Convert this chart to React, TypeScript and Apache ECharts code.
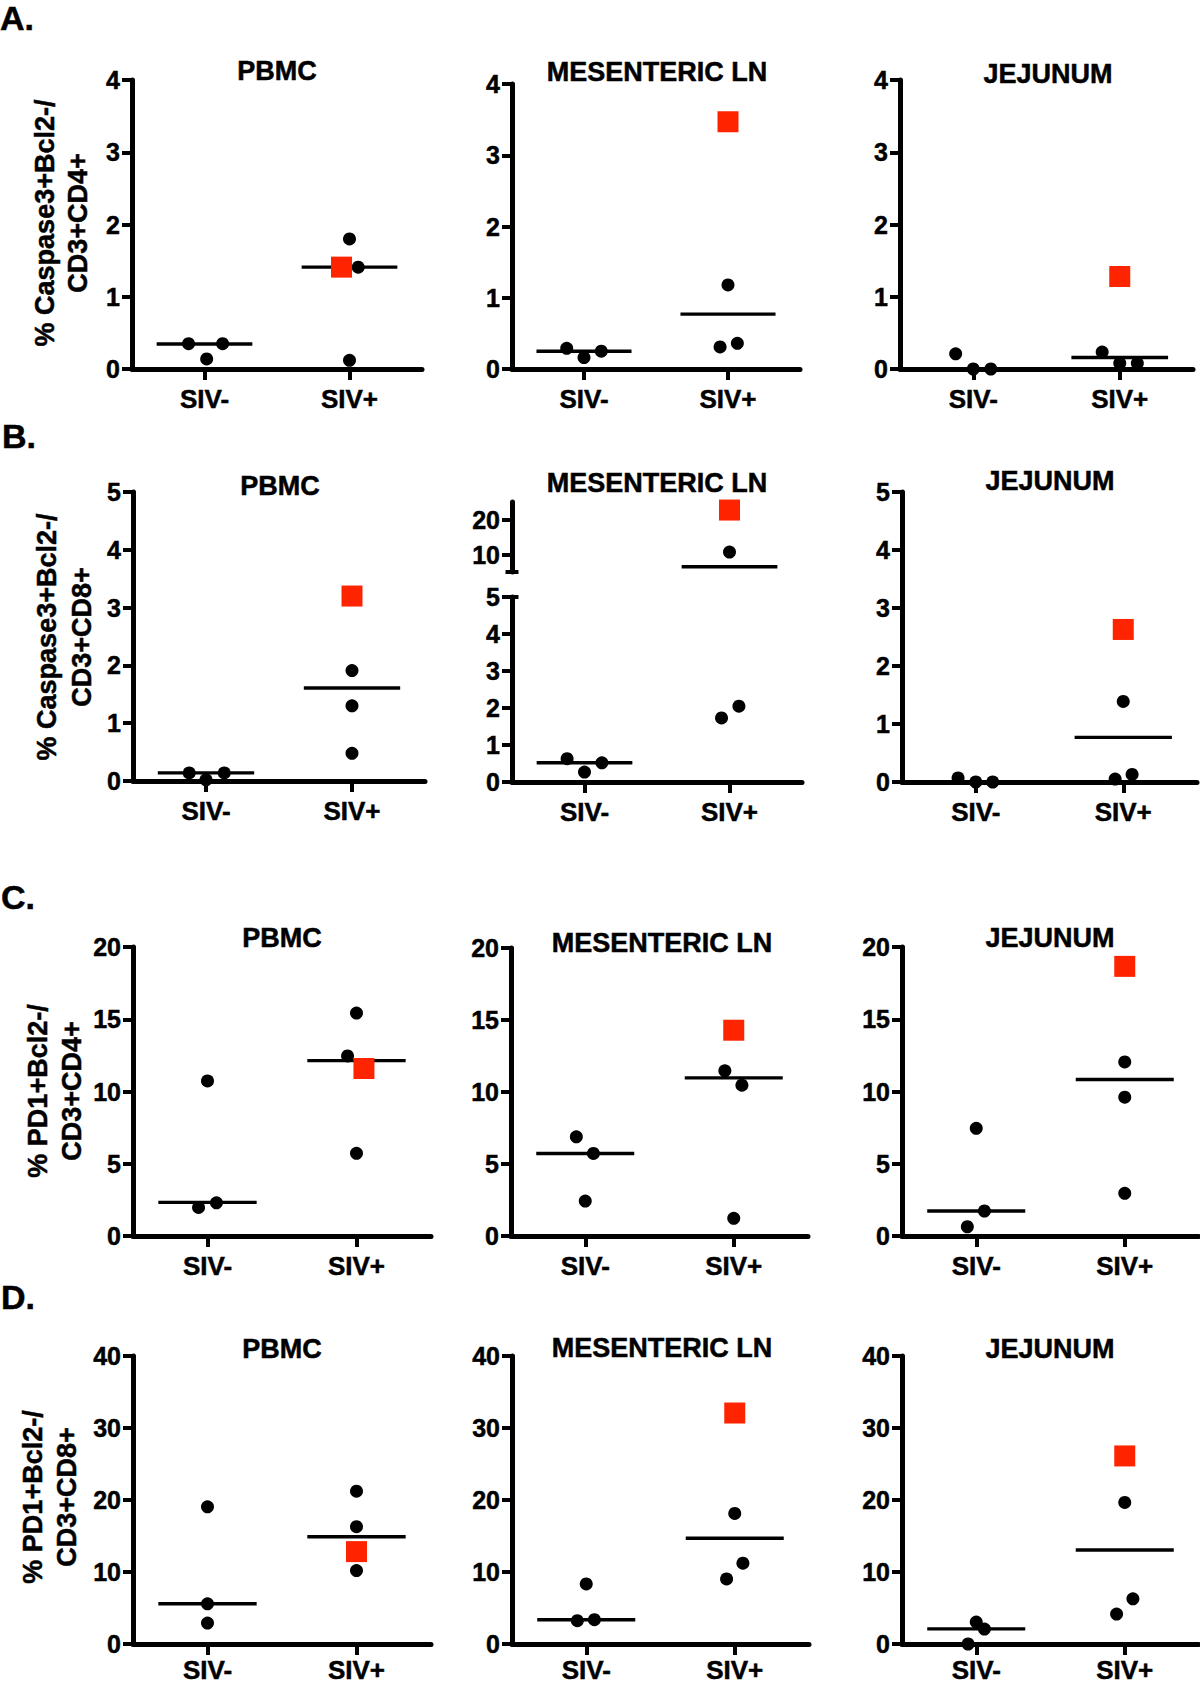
import React, { useEffect, useRef } from "react";
import * as echarts from "echarts";

// ---------------- data ----------------
const rowLetters = ["A.", "B.", "C.", "D."];
const tissues = ["PBMC", "MESENTERIC LN", "JEJUNUM"];
const groupLabels = ["SIV-", "SIV+"];
const groupPos = [1, 3];
const yTitleLine1 = ["% Caspase3+Bcl2-/", "% Caspase3+Bcl2-/", "% PD1+Bcl2-/", "% PD1+Bcl2-/"];
const yTitleLine2 = ["CD3+CD4+", "CD3+CD8+", "CD3+CD4+", "CD3+CD8+"];
const yMax = [4, 5, 20, 40];
const yStep = [1, 1, 5, 10];
// broken axis (row B, mesenteric LN)
const brokenLowerMax = 5;
const brokenUpperMax = 25;
const brokenUpperTicks = [10, 20];

// Row A: % Caspase3+Bcl2-/CD3+CD4+
const casp4Neg = [[0.35, 0.14, 0.35], [0.29, 0.16, 0.25], [0.21, 0, 0]];
const casp4NegJit = [[-0.22, 0.03, 0.25], [-0.24, 0, 0.24], [-0.24, 0, 0.24]];
const casp4Pos = [[1.8, 1.41, 0.12], [1.18, 0.31, 0.36], [0.235, 0.08, 0.08]];
const casp4PosJit = [[0, 0.12, 0], [0, -0.11, 0.13], [-0.24, 0, 0.24]];
const casp4Sq = [1.41, 3.47, 1.28];
const casp4SqJit = [-0.11, 0, 0];
const casp4Med = [[0.345, 1.41], [0.25, 0.77], [0, 0.16]];

// Row B: % Caspase3+Bcl2-/CD3+CD8+
const casp8Neg = [[0.14, 0.02, 0.14], [0.63, 0.27, 0.52], [0.07, 0, 0]];
const casp8NegJit = [[-0.23, 0, 0.25], [-0.24, 0, 0.24], [-0.24, 0, 0.23]];
const casp8Pos = [[1.91, 1.3, 0.48], [1.73, 2.05, 10.7], [1.39, 0.05, 0.13]];
const casp8PosJit = [[0, 0, 0], [-0.11, 0.13, 0], [0, -0.11, 0.12]];
const casp8Sq = [3.2, 22.7, 2.63];
const casp8SqJit = [0, 0, 0];
const casp8Med = [[0.14, 1.61], [0.52, 6.5], [0, 0.77]];

// Row C: % PD1+Bcl2-/CD3+CD4+
const pd4Neg = [[10.73, 1.98, 2.3], [6.89, 5.73, 2.43], [7.45, 1.73, 0.64]];
const pd4NegJit = [[0, -0.12, 0.12], [-0.12, 0.11, 0], [0, 0.11, -0.12]];
const pd4Pos = [[15.43, 12.46, 5.72], [11.47, 10.47, 1.23], [12.05, 9.61, 2.95]];
const pd4PosJit = [[0, -0.12, 0], [-0.12, 0.11, 0], [0, 0, 0]];
const pd4Sq = [11.59, 14.29, 18.66];
const pd4SqJit = [0.1, 0, 0];
const pd4Med = [[2.33, 12.14], [5.73, 10.98], [1.73, 10.83]];

// Row D: % PD1+Bcl2-/CD3+CD8+
const pd8Neg = [[19.06, 5.58, 2.91], [8.35, 3.23, 3.37], [3.05, 2.08, 0]];
const pd8NegJit = [[0, 0, 0], [0, -0.12, 0.11], [0, 0.11, -0.11]];
const pd8Pos = [[21.23, 16.29, 10.2], [18.14, 11.22, 9.04], [19.67, 6.28, 4.16]];
const pd8PosJit = [[0, 0, 0], [0, 0.11, -0.11], [0, 0.11, -0.11]];
const pd8Sq = [12.83, 32.08, 26.12];
const pd8SqJit = [0, 0, 0];
const pd8Med = [[5.58, 14.9], [3.37, 14.68], [2.1, 13.06]];

// ---------------- layout / style ----------------
const BLACK = "#000000";
const RED = "#ff2400";
const FONT = "'Liberation Sans', Arial, Helvetica, sans-serif";
const MED_HALF = 0.66;
const AXIS_W = 5;
const TEXT_STROKE = 0.5;

// [left, top, width, height] per row / column
const gridRects = [
  [[132, 80, 290, 289], [512, 84, 288, 285], [900, 80, 293, 289]],
  [[133, 492, 292, 289], [512, 597, 290, 185], [902, 492, 295, 290]],
  [[133, 947, 298, 289], [511, 948, 297, 288], [902, 947, 297, 289]],
  [[133, 1356, 298, 288], [512, 1356, 297, 288], [902, 1356, 297, 288]],
];
const brokenUpperRect = [512, 502, 290, 70];
const titlePos = [
  [[277, 71], [657, 72], [1048, 74]],
  [[280, 486], [657, 483], [1050, 481]],
  [[282, 938], [662, 943], [1050, 938]],
  [[282, 1349], [662, 1348], [1050, 1349]],
];
const yTitlePos = [[61.5, 223, 33], [64.5, 637, 35], [55, 1091, 34], [50, 1497, 34]];
const letterPos = [[0, 18], [2, 436], [1, 897], [1, 1297]];
const xLabelMargin = [17, 17, 17, 13];

type Seg = {
  rect: number[];
  min: number;
  max: number;
  interval?: number;
  ticks?: number[];
  showX: boolean;
  accept: (v: number) => boolean;
  cap?: number;
};

function buildOption() {
  const rows = [
    { neg: casp4Neg, negJ: casp4NegJit, pos: casp4Pos, posJ: casp4PosJit, sq: casp4Sq, sqJ: casp4SqJit, med: casp4Med },
    { neg: casp8Neg, negJ: casp8NegJit, pos: casp8Pos, posJ: casp8PosJit, sq: casp8Sq, sqJ: casp8SqJit, med: casp8Med },
    { neg: pd4Neg, negJ: pd4NegJit, pos: pd4Pos, posJ: pd4PosJit, sq: pd4Sq, sqJ: pd4SqJit, med: pd4Med },
    { neg: pd8Neg, negJ: pd8NegJit, pos: pd8Pos, posJ: pd8PosJit, sq: pd8Sq, sqJ: pd8SqJit, med: pd8Med },
  ];
  const grid: any[] = [];
  const xAxis: any[] = [];
  const yAxis: any[] = [];
  const series: any[] = [];
  const graphic: any[] = [];

  const labelStyle = {
    color: BLACK,
    fontWeight: "bold",
    fontFamily: FONT,
    textBorderColor: BLACK,
    textBorderWidth: TEXT_STROKE,
  };
  const gStroke = { stroke: BLACK, lineWidth: TEXT_STROKE };

  rows.forEach((row, r) => {
    for (let c = 0; c < 3; c++) {
      let segs: Seg[];
      if (r === 1 && c === 1) {
        segs = [
          { rect: gridRects[r][c], min: 0, max: brokenLowerMax, interval: 1, showX: true, accept: (v) => v <= brokenLowerMax, cap: brokenLowerMax },
          { rect: brokenUpperRect, min: brokenLowerMax, max: brokenUpperMax, interval: 5, ticks: brokenUpperTicks, showX: false, accept: (v) => v > brokenLowerMax, cap: brokenLowerMax },
        ];
      } else {
        segs = [{ rect: gridRects[r][c], min: 0, max: yMax[r], interval: yStep[r], showX: true, accept: () => true }];
      }
      segs.forEach((seg) => {
        const g = grid.length;
        const [left, top, width, height] = seg.rect;
        grid.push({ left, top, width, height, containLabel: false });
        xAxis.push({
          type: "value",
          gridIndex: g,
          min: 0,
          max: 4,
          show: seg.showX,
          axisLine: { show: true, onZero: false, lineStyle: { color: BLACK, width: AXIS_W } },
          axisTick: { show: true, customValues: groupPos, length: 11, lineStyle: { color: BLACK, width: 4 } },
          axisLabel: {
            show: true,
            customValues: groupPos,
            formatter: (v: number) => (v === groupPos[0] ? groupLabels[0] : v === groupPos[1] ? groupLabels[1] : ""),
            margin: xLabelMargin[r],
            fontSize: 26,
            lineHeight: 26,
            ...labelStyle,
          },
          splitLine: { show: false },
        });
        const yTick: any = { show: true, length: 10, lineStyle: { color: BLACK, width: 4 } };
        const yLab: any = { show: true, margin: 12, fontSize: 25, ...labelStyle };
        if (seg.ticks) {
          yTick.customValues = seg.ticks;
          yLab.customValues = seg.ticks;
        }
        yAxis.push({
          type: "value",
          gridIndex: g,
          min: seg.min,
          max: seg.max,
          interval: seg.interval,
          axisLine: { show: true, onZero: false, lineStyle: { color: BLACK, width: AXIS_W } },
          axisTick: yTick,
          axisLabel: yLab,
          splitLine: { show: false },
        });

        // medians
        [row.med[c][0], row.med[c][1]].forEach((m, side) => {
          if (!seg.accept(m)) return;
          series.push({
            type: "line",
            xAxisIndex: g,
            yAxisIndex: g,
            data: [[groupPos[side] - MED_HALF, m], [groupPos[side] + MED_HALF, m]],
            symbol: "none",
            lineStyle: { color: BLACK, width: 3.4, opacity: 1 },
            silent: true,
            z: 2,
          });
        });

        // circles
        const circles: number[][] = [];
        row.neg[c].forEach((v, i) => {
          if (seg.accept(v)) circles.push([groupPos[0] + row.negJ[c][i], v]);
        });
        row.pos[c].forEach((v, i) => {
          if (seg.accept(v)) circles.push([groupPos[1] + row.posJ[c][i], v]);
        });
        series.push({
          type: "scatter",
          xAxisIndex: g,
          yAxisIndex: g,
          data: circles,
          symbol: "circle",
          symbolSize: 13,
          itemStyle: { color: BLACK, opacity: 1 },
          silent: true,
          z: 3,
        });
        // red square
        if (seg.accept(row.sq[c])) {
          series.push({
            type: "scatter",
            xAxisIndex: g,
            yAxisIndex: g,
            data: [[groupPos[1] + row.sqJ[c], row.sq[c]]],
            symbol: "rect",
            symbolSize: 21,
            itemStyle: { color: RED, opacity: 1 },
            silent: true,
            z: 4,
          });
        }
        // break caps
        if (seg.cap !== undefined) {
          series.push({
            type: "scatter",
            xAxisIndex: g,
            yAxisIndex: g,
            data: [[0, seg.cap]],
            symbol: "rect",
            symbolSize: [13, 4],
            itemStyle: { color: BLACK, opacity: 1 },
            clip: false,
            silent: true,
            z: 5,
          });
        }
      });

      // panel title
      graphic.push({
        type: "text",
        x: titlePos[r][c][0],
        y: titlePos[r][c][1],
        style: {
          text: tissues[c],
          font: `bold 27px ${FONT}`,
          fill: BLACK,
          ...gStroke,
          align: "center",
          textAlign: "center",
          verticalAlign: "middle",
          textVerticalAlign: "middle",
        },
      });
    }

    // row letter
    graphic.push({
      type: "text",
      x: letterPos[r][0],
      y: letterPos[r][1],
      style: {
        text: rowLetters[r],
        font: `bold 34px ${FONT}`,
        fill: BLACK,
        ...gStroke,
        align: "left",
        textAlign: "left",
        verticalAlign: "middle",
        textVerticalAlign: "middle",
      },
    });
    // y title
    graphic.push({
      type: "text",
      x: yTitlePos[r][0],
      y: yTitlePos[r][1],
      rotation: Math.PI / 2,
      style: {
        text: yTitleLine1[r] + "\n" + yTitleLine2[r],
        font: `bold 27px ${FONT}`,
        lineHeight: yTitlePos[r][2],
        fill: BLACK,
        ...gStroke,
        align: "center",
        textAlign: "center",
        verticalAlign: "middle",
        textVerticalAlign: "middle",
      },
    });
  });

  return {
    animation: false,
    backgroundColor: "#ffffff",
    grid,
    xAxis,
    yAxis,
    series,
    graphic: { elements: graphic },
  };
}

export default function App() {
  const ref = useRef<HTMLDivElement>(null);
  useEffect(() => {
    const chart = echarts.init(ref.current as HTMLDivElement, null, { renderer: "svg" });
    chart.setOption(buildOption() as any);
    return () => {
      chart.dispose();
    };
  }, []);
  return (
    <div
      ref={ref}
      style={{ position: "absolute", left: 0, top: 0, width: 1200, height: 1687, background: "#fff" }}
    />
  );
}
